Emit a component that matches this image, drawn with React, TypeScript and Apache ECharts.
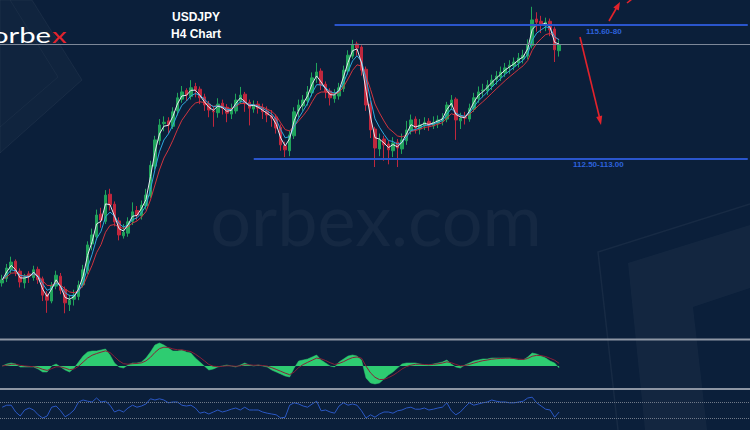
import React, { useEffect, useRef } from 'react';
import * as echarts from 'echarts';

const BG = '#0b1f3a';
const SLOT_COUNT = 167;

const opens = [
  110.00,110.10,110.30,110.48,110.26,110.00,110.20,110.12,110.30,110.09,
  109.75,109.60,109.93,110.15,109.86,109.52,109.64,109.70,109.96,110.27,
  110.86,111.02,111.52,111.36,111.96,111.74,111.37,111.04,111.10,111.36,
  111.60,111.48,111.70,111.92,112.58,113.14,113.52,113.58,113.46,113.80,
  114.06,114.25,114.12,114.34,114.28,114.11,113.95,113.80,113.76,113.97,
  113.88,113.73,113.80,114.02,114.17,113.99,113.84,113.95,113.88,113.80,
  113.69,113.66,113.44,113.03,112.92,113.25,113.80,113.91,114.02,114.20,
  114.55,114.68,114.39,114.24,114.07,114.13,114.29,114.68,115.01,115.28,
  115.21,114.72,113.95,113.40,112.96,113.18,113.07,112.92,113.11,112.96,
  113.14,113.36,113.62,113.40,113.47,113.57,113.47,113.53,113.58,113.62,
  113.91,114.06,113.58,113.66,113.62,113.84,114.07,114.24,114.24,114.35,
  114.50,114.55,114.64,114.77,114.79,114.86,114.95,115.01,115.24,115.83,
  115.78,115.68,115.78,115.61,115.13
];
const closes = [
  110.07,110.33,110.46,110.24,110.02,110.11,110.15,110.29,110.07,109.73,
  109.62,109.95,110.17,109.84,109.56,109.62,109.73,109.95,110.29,110.84,
  111.06,111.50,111.39,111.94,111.72,111.35,111.06,111.12,111.35,111.57,
  111.50,111.72,111.94,112.60,113.16,113.49,113.55,113.49,113.78,114.09,
  114.22,114.15,114.31,114.26,114.09,113.93,113.82,113.78,113.95,113.86,
  113.75,113.82,114.04,114.15,113.97,113.86,113.93,113.86,113.78,113.71,
  113.64,113.42,113.05,112.94,113.27,113.78,113.93,114.04,114.22,114.53,
  114.66,114.37,114.22,114.09,114.15,114.31,114.70,115.03,115.26,115.19,
  114.70,113.93,113.38,112.98,113.16,113.05,112.94,113.09,112.98,113.16,
  113.38,113.60,113.42,113.49,113.55,113.49,113.55,113.60,113.64,113.93,
  114.04,113.60,113.64,113.64,113.86,114.09,114.22,114.26,114.37,114.48,
  114.57,114.66,114.75,114.81,114.88,114.97,115.03,115.26,115.81,115.76,
  115.70,115.76,115.59,115.15,115.26
];
const lows = [
  109.92,110.02,110.22,110.15,109.90,109.88,110.00,110.05,109.98,109.60,
  109.34,109.55,109.86,109.75,109.33,109.38,109.50,109.62,109.90,110.20,
  110.72,110.95,111.22,111.30,111.60,111.25,110.94,110.98,111.02,111.28,
  111.38,111.40,111.62,111.88,112.50,113.05,113.35,113.30,113.40,113.70,
  113.98,114.02,114.05,114.10,113.95,113.80,113.66,113.45,113.65,113.72,
  113.55,113.62,113.74,113.95,113.78,113.48,113.76,113.74,113.62,113.55,
  113.45,113.30,112.92,112.78,112.80,113.18,113.66,113.80,113.92,114.12,
  114.42,114.26,114.08,113.92,113.98,114.05,114.22,114.60,114.95,115.02,
  114.58,113.80,113.20,112.56,112.80,112.70,112.62,112.78,112.56,112.85,
  113.05,113.28,113.30,113.28,113.38,113.36,113.40,113.42,113.48,113.55,
  113.82,113.16,113.40,113.50,113.56,113.78,113.98,114.10,114.15,114.26,
  114.38,114.46,114.55,114.62,114.70,114.76,114.85,114.94,115.18,115.55,
  115.52,115.56,115.45,114.88,115.00
];
const highs = [
  110.18,110.42,110.58,110.52,110.32,110.20,110.26,110.38,110.36,110.14,
  109.82,110.02,110.27,110.22,109.92,109.74,109.85,110.05,110.40,110.92,
  111.20,111.62,111.66,112.05,112.08,111.80,111.45,111.30,111.45,111.78,
  111.70,111.82,112.08,112.70,113.25,113.62,113.68,113.66,113.88,114.20,
  114.35,114.30,114.48,114.42,114.34,114.18,114.02,113.90,114.08,114.05,
  113.95,113.96,114.18,114.33,114.22,114.05,114.03,114.02,113.96,113.90,
  113.82,113.72,113.50,113.12,113.36,113.88,114.05,114.15,114.35,114.65,
  114.86,114.74,114.45,114.30,114.28,114.42,114.80,115.14,115.37,115.33,
  115.25,114.78,114.02,113.45,113.30,113.25,113.15,113.22,113.18,113.30,
  113.58,113.72,113.68,113.62,113.66,113.64,113.68,113.70,113.75,114.00,
  114.15,114.10,113.76,113.78,113.96,114.20,114.34,114.40,114.48,114.60,
  114.68,114.78,114.86,114.92,114.98,115.08,115.15,115.38,116.10,115.98,
  115.90,115.86,115.84,115.66,115.36
];

const histogram = [
  0.00,0.02,0.03,0.02,-0.01,-0.01,-0.01,-0.01,-0.03,-0.06,
  -0.06,0.00,0.02,-0.01,-0.04,-0.06,-0.02,0.04,0.10,0.14,
  0.15,0.15,0.16,0.17,0.11,0.03,-0.01,-0.02,0.01,0.03,
  0.03,0.04,0.08,0.14,0.21,0.23,0.21,0.18,0.15,0.15,
  0.16,0.14,0.13,0.08,0.04,0.00,-0.04,-0.03,-0.01,0.00,
  0.01,0.00,-0.01,0.01,0.03,0.01,0.00,0.01,0.00,-0.01,
  -0.04,-0.06,-0.08,-0.10,-0.11,-0.02,0.05,0.06,0.07,0.09,
  0.11,0.06,0.03,0.00,-0.01,0.04,0.07,0.10,0.11,0.10,
  0.06,-0.12,-0.17,-0.18,-0.17,-0.13,-0.09,-0.06,-0.02,0.02,
  0.03,0.03,0.03,0.02,0.01,0.01,0.02,0.03,0.04,0.06,
  0.02,-0.01,-0.02,0.01,0.03,0.05,0.06,0.07,0.07,0.08,
  0.08,0.08,0.08,0.08,0.07,0.06,0.06,0.09,0.13,0.12,
  0.10,0.08,0.05,0.03,-0.02
];

const rsi = [
  57,62,62,45,35,50,55,50,38,30,
  35,57,60,48,33,40,50,70,75,72,
  70,80,70,72,62,45,50,45,55,62,
  57,60,65,78,75,78,75,68,70,70,
  62,60,62,55,42,45,40,45,50,45,
  48,52,55,50,57,50,50,50,45,42,
  40,38,30,32,62,68,65,60,57,65,
  72,48,50,45,42,60,68,62,65,62,
  48,30,38,32,40,45,45,42,48,50,
  55,57,52,52,55,50,52,55,57,68,
  48,38,45,57,68,62,65,68,70,75,
  72,70,70,68,68,70,72,80,82,68,
  60,52,50,32,45
];

const RSI_LEVELS = [70, 30];
const upperZone = 115.70;
const lowerZone = 112.74;
const lastPriceLine = 115.28;
const upperZoneLabel = '115.60-80';
const lowerZoneLabel = '112.50-113.00';
const upperZoneStart = 74;
const lowerZoneStart = 56;

function ema(values: number[], period: number): number[] {
  const k = 2 / (period + 1);
  const out: number[] = [];
  values.forEach((v, i) => {
    out.push(i === 0 ? v : out[i - 1] + k * (v - out[i - 1]));
  });
  return out.map((v) => Math.round(v * 10000) / 10000);
}

export default function App() {
  const ref = useRef<HTMLDivElement>(null);

  useEffect(() => {
    if (!ref.current) return;
    const chart = echarts.init(ref.current, undefined, { renderer: 'svg' });
    const slots = Array.from({ length: SLOT_COUNT }, (_, i) => String(i));
    const candles = closes.map((c, i) => [opens[i], c, lows[i], highs[i]]);
    const maFast = ema(closes, 2);
    const maMid = ema(closes, 4);
    const maSlow = ema(closes, 7);
    const signal = ema(histogram, 4);
    const last = SLOT_COUNT - 1;

    const faint = 'rgba(255,255,255,0.035)';
    const red = '#e3232c';

    chart.setOption({
      animation: false,
      backgroundColor: BG,
      grid: [
        { left: 0, right: 0, top: 0, height: 335 },
        { left: 0, right: 0, top: 341, height: 50 },
        { left: 0, right: 0, top: 390, height: 40 },
      ],
      xAxis: [0, 1, 2].map((g) => ({
        type: 'category', gridIndex: g, data: slots, boundaryGap: true, show: false,
      })),
      yAxis: [
        { gridIndex: 0, min: 108.85, max: 116.25, show: false },
        { gridIndex: 1, min: -0.25, max: 0.25, show: false },
        { gridIndex: 2, min: 0, max: 100, show: false },
      ],
      graphic: [
        { type: 'polygon', z: 0, shape: { points: [[0, 0], [32, 0], [82, 80], [0, 153]] }, style: { fill: 'rgba(255,255,255,0.025)', stroke: 'rgba(255,255,255,0.05)', lineWidth: 1 } },
        { type: 'polyline', z: 0, shape: { points: [[10, 0], [58, 77], [0, 127]] }, style: { stroke: 'rgba(255,255,255,0.04)', lineWidth: 1 } },
        { type: 'polyline', z: 0, shape: { points: [[750, 204], [598, 252], [618, 430]] }, style: { stroke: 'rgba(255,255,255,0.05)', lineWidth: 1.5, fill: null } },
        { type: 'polygon', z: 0, shape: { points: [[628, 263], [750, 225], [750, 288], [693, 307], [707, 430], [645, 430]] }, style: { fill: faint } },
        { type: 'text', z: 0, style: { text: 'orbex.com', x: 376, y: 218, fill: 'rgba(255,255,255,0.045)', fontSize: 72, fontFamily: 'Lato', textAlign: 'center', textVerticalAlign: 'middle' } },
        { type: 'text', z: 50, x: 51, y: 35, scaleX: 1.33, style: { text: 'orbe', x: 0, y: 0, fill: '#ffffff', fontSize: 22, fontFamily: 'Lato', textAlign: 'right', textVerticalAlign: 'middle' } },
        { type: 'text', z: 50, x: 52, y: 35, scaleX: 1.33, style: { text: 'x', x: 0, y: 0, fill: '#e3232c', fontSize: 22, fontFamily: 'Lato', textAlign: 'left', textVerticalAlign: 'middle' } },
        { type: 'text', z: 50, style: { text: 'USDJPY', x: 196, y: 17, fill: '#ffffff', fontSize: 12, fontWeight: 'bold', fontFamily: 'Liberation Sans', textAlign: 'center', textVerticalAlign: 'middle' } },
        { type: 'text', z: 50, style: { text: 'H4 Chart', x: 196, y: 34, fill: '#ffffff', fontSize: 12, fontWeight: 'bold', fontFamily: 'Liberation Sans', textAlign: 'center', textVerticalAlign: 'middle' } },
        { type: 'text', z: 50, style: { text: upperZoneLabel, x: 586, y: 31, fill: '#2d62dc', fontSize: 8, fontWeight: 'bold', fontFamily: 'Liberation Sans', textAlign: 'left', textVerticalAlign: 'middle' } },
        { type: 'text', z: 50, style: { text: lowerZoneLabel, x: 573, y: 164, fill: '#2d62dc', fontSize: 8, fontWeight: 'bold', fontFamily: 'Liberation Sans', textAlign: 'left', textVerticalAlign: 'middle' } },
        { type: 'line', z: 50, shape: { x1: 580, y1: 37, x2: 599.4, y2: 117 }, style: { stroke: red, lineWidth: 1.6 } },
        { type: 'polygon', z: 50, shape: { points: [[601, 125], [596.2, 116.9], [602.2, 115.5]] }, style: { fill: red } },
        { type: 'line', z: 50, shape: { x1: 609, y1: 21, x2: 616.5, y2: 8 }, style: { stroke: red, lineWidth: 1.6 } },
        { type: 'polygon', z: 50, shape: { points: [[620, 2], [613.3, 7.4], [618.8, 10.6]] }, style: { fill: red } },
        { type: 'line', z: 50, shape: { x1: 627, y1: 3, x2: 632, y2: -1 }, style: { stroke: red, lineWidth: 1.6 } },
        { type: 'rect', z: 40, shape: { x: 0, y: 338.5, width: 750, height: 2 }, style: { fill: '#8e96a4' } },
        { type: 'rect', z: 40, shape: { x: 0, y: 388, width: 750, height: 2 }, style: { fill: '#8e96a4' } },
      ],
      series: [
        {
          type: 'candlestick', xAxisIndex: 0, yAxisIndex: 0, data: candles, barWidth: 3,
          itemStyle: { color: '#20a35b', color0: '#c0273d', borderColor: '#20a35b', borderColor0: '#c0273d', borderWidth: 1 },
          markLine: {
            silent: true, symbol: ['none', 'none'], label: { show: false },
            data: [
              { yAxis: lastPriceLine, lineStyle: { color: '#7d8798', width: 1, type: 'solid' } },
              [{ coord: [upperZoneStart, upperZone], lineStyle: { color: '#2a55cc', width: 2, type: 'solid' } }, { coord: [last, upperZone] }],
              [{ coord: [lowerZoneStart, lowerZone], lineStyle: { color: '#2a55cc', width: 2, type: 'solid' } }, { coord: [last, lowerZone] }],
            ],
          },
        },
        { type: 'line', xAxisIndex: 0, yAxisIndex: 0, data: maSlow, symbol: 'none', lineStyle: { color: '#d1343f', width: 1 } },
        { type: 'line', xAxisIndex: 0, yAxisIndex: 0, data: maMid, symbol: 'none', lineStyle: { color: '#2fa8de', width: 1 } },
        { type: 'line', xAxisIndex: 0, yAxisIndex: 0, data: maFast, symbol: 'none', lineStyle: { color: '#e4e9f0', width: 1 } },
        {
          type: 'line', xAxisIndex: 1, yAxisIndex: 1, data: histogram, symbol: 'none',
          lineStyle: { color: '#2ecc71', width: 0.5 }, areaStyle: { origin: 0, color: '#2ecc71', opacity: 1 },
        },
        { type: 'line', xAxisIndex: 1, yAxisIndex: 1, data: signal, symbol: 'none', lineStyle: { color: '#8a2038', width: 1 } },
        {
          type: 'line', xAxisIndex: 2, yAxisIndex: 2, data: rsi, symbol: 'none',
          lineStyle: { color: '#2b58c4', width: 1 },
          markLine: {
            silent: true, symbol: ['none', 'none'], label: { show: false },
            lineStyle: { color: '#6e7888', width: 1, type: 'dotted' },
            data: RSI_LEVELS.map((v) => ({ yAxis: v })),
          },
        },
      ],
    });
    return () => chart.dispose();
  }, []);

  return (
    <div
      ref={ref}
      style={{ position: 'fixed', left: 0, top: 0, width: 750, height: 430, background: BG }}
    />
  );
}
